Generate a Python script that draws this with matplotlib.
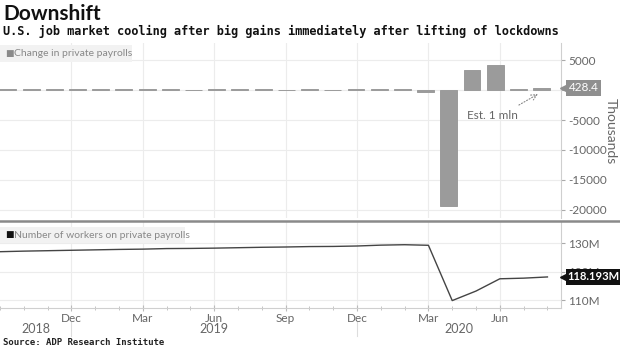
import matplotlib
matplotlib.use("Agg")
import matplotlib.pyplot as plt
import matplotlib.transforms as mtrans
from matplotlib.patches import Rectangle
from matplotlib.lines import Line2D
import numpy as np

plt.rcParams['axes.unicode_minus'] = False
plt.rcParams['font.family'] = ['Lato', 'DejaVu Sans']

# monthly data, Sep 2018 .. Aug 2020
payroll_change = [180, 260, 170, 200, 190, 180, 140, 220, 60, 140, 160, 180,
                  130, 150, 80, 190, 290, 170, -300, -19409, 3341, 4314, 212, 428.4]
workers_m = [127.05, 127.25, 127.40, 127.55, 127.70, 127.85, 127.95, 128.15,
             128.20, 128.30, 128.45, 128.60, 128.70, 128.85, 128.90, 129.05,
             129.35, 129.50, 129.30, 109.90, 113.25, 117.55, 117.77, 118.193]
month_labels = ["Dec", "Mar", "Jun", "Sep", "Dec", "Mar", "Jun"]
years = ["2018", "2019", "2020"]
change_ticks = [5000, 0, -5000, -10000, -15000, -20000]
worker_ticks = [110, 120, 130]

W, H = 620, 348
GRID = '#ececec'
TXT = '#666666'

def box(x0, y0, x1, y1):
    # pixel box (top-left origin) -> figure fraction rect
    return [x0 / W, 1 - y1 / H, (x1 - x0) / W, (y1 - y0) / H]

fig = plt.figure(figsize=(W / 100, H / 100), dpi=100)
ax1 = fig.add_axes(box(0, 43, 561, 218))
ax2 = fig.add_axes(box(0, 222, 561, 308), sharex=ax1)

idx = np.arange(len(workers_m))
xmax = 23.57
major = [i for i in idx if i % 3 == 0 and i > 0]

# --- top: monthly change ---
bar_x = 0.33 + 0.975 * idx   # bars sit a touch left of the month points
ax1.bar(bar_x, payroll_change, width=0.71, color='#9b9b9b',
        edgecolor='#9b9b9b', linewidth=0.7, zorder=3)
ax1.set_ylim(-21400, 7930)
ax1.set_xlim(0, xmax)
ax1.set_yticks(change_ticks)
# the 0 label sits under the last-value tag
ax1.set_yticklabels([str(v) if v else '' for v in change_ticks])

for ax in (ax1, ax2):
    for s in ('top', 'left', 'bottom'):
        ax.spines[s].set_visible(False)
    ax.spines['right'].set_color('#cfcfcf')
    ax.yaxis.tick_right()
    ax.tick_params(axis='y', length=3, width=0.8, color='#aaaaaa',
                   labelsize=8.5, labelcolor=TXT, pad=2)
    ax.set_xticks(major)
    ax.grid(True, color=GRID, lw=0.8, zorder=0)
    ax.set_axisbelow(True)
    ax.set_facecolor('white')

ax1.tick_params(axis='x', which='both', length=0, labelbottom=False)
fig.text(611 / W, 1 - 131 / H, 'Thousands', rotation=270, fontsize=10,
         color=TXT, ha='center', va='center')

# --- bottom: employment level ---
ax2.plot(idx, workers_m, color='#444444', lw=1.0, zorder=3)
ax2.set_ylim(107.3, 137.47)
ax2.set_yticks(worker_ticks)
ax2.set_yticklabels([f"{v}M" for v in worker_ticks])
ax2.spines['bottom'].set_visible(True)
ax2.spines['bottom'].set_color('#cfcfcf')
ax2.set_xticks(idx, minor=True)
ax2.set_xticklabels(month_labels)
ax2.tick_params(axis='x', which='major', direction='inout', length=5,
                color='#bbbbbb', labelsize=8.5, labelcolor=TXT, pad=1)
ax2.tick_params(axis='x', which='minor', direction='inout', length=3,
                color='#bbbbbb')

# year labels, centred over each year's visible span
tr2 = mtrans.blended_transform_factory(ax2.transData, ax2.transAxes)
edges = [0] + [i for i in major if i % 12 == 3] + [xmax]
for yr, a, b in zip(years, edges[:-1], edges[1:]):
    ax2.text((a + b) / 2, -0.24, yr, transform=tr2, ha='center', va='center',
             fontsize=9, color=TXT)
for e in edges[1:-1]:
    ax2.add_line(Line2D([e, e], [-0.16, -0.32], transform=tr2, color='#dddddd',
                        lw=0.8, clip_on=False))

# legends
for (y0, y1, w, sq, label) in [(45, 62, 132, '#8a8a8a', 'Change in private payrolls'),
                               (227, 243, 185, '#111111', 'Number of workers on private payrolls')]:
    fig.add_artist(Rectangle((0, 1 - y1 / H), w / W, (y1 - y0) / H,
                             transform=fig.transFigure, fc='#f2f2f2', ec='none'))
    yc = 1 - (y0 + y1) / 2 / H
    fig.text(5 / W, yc, '\u25a0', fontsize=6.5, color=sq, va='center',
             family=['DejaVu Sans'])
    fig.text(14 / W, yc, label, fontsize=7.5, color='#888888', va='center')

# last-value tags
tr1 = mtrans.blended_transform_factory(ax1.transAxes, ax1.transData)
ax1.plot([1.006], [payroll_change[-1]], marker='<', ms=6, color='#8f8f8f',
         transform=tr1, clip_on=False, zorder=5)
ax1.text(1.014, payroll_change[-1], f"{payroll_change[-1]}", transform=tr1,
         fontsize=8.5, color='white', va='center', ha='left', zorder=6,
         bbox=dict(boxstyle='square,pad=0.2', fc='#8f8f8f', ec='none'))
tr2y = mtrans.blended_transform_factory(ax2.transAxes, ax2.transData)
ax2.plot([1.006], [workers_m[-1]], marker='<', ms=6, color='#111111',
         transform=tr2y, clip_on=False, zorder=5)
ax2.text(1.012, workers_m[-1], f"{workers_m[-1]}M", transform=tr2y,
         fontsize=8, color='white', weight='bold', va='center', ha='left',
         zorder=6, bbox=dict(boxstyle='square,pad=0.2', fc='#111111', ec='none'))

# estimate note
ax1.annotate('', xy=(22.7, -400), xytext=(21.7, -2700),
             arrowprops=dict(arrowstyle='->', linestyle=':', color='#888888', lw=0.8))
ax1.text(20.7, -4250, 'Est. 1 mln', fontsize=8.5, color=TXT, ha='center', va='center')

# divider between panels
fig.add_artist(Line2D([0, 1], [1 - 220.5 / H] * 2, transform=fig.transFigure,
                      color='#8a8a8a', lw=1.8))

# titles
fig.text(3 / W, 1 - 20 / H, 'Downshift', fontsize=15, weight='bold',
         color='#111111', va='baseline')
fig.text(3 / W, 1 - 35.5 / H,
         'U.S. job market cooling after big gains immediately after lifting of lockdowns',
         fontsize=8.6, weight='bold', color='#111111', va='baseline',
         family=['DejaVu Sans Mono'])
fig.text(3 / W, 1 - 345 / H, 'Source: ADP Research Institute', fontsize=6.5,
         weight='bold', color='#222222', va='baseline', family=['DejaVu Sans Mono'])

fig.savefig('out.png', dpi=100, facecolor='white')
